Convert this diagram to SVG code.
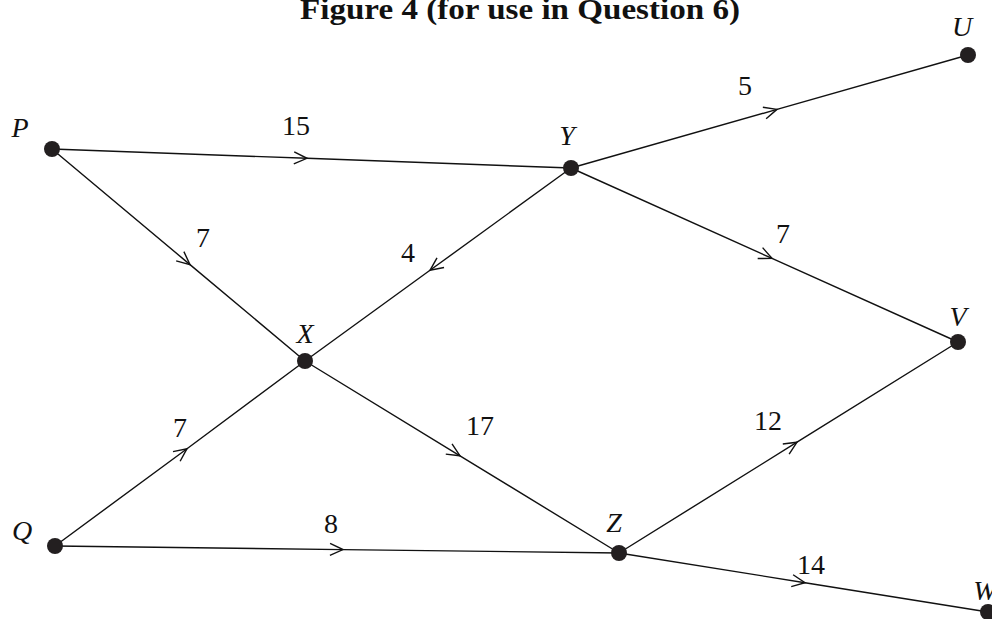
<svg xmlns="http://www.w3.org/2000/svg" width="992" height="619" viewBox="0 0 992 619">
<style>
.e{fill:none;stroke:#111;stroke-width:1.4;marker-mid:url(#arr)}
.n{fill:#231f20}
.lbl{font-style:italic;font-size:28px;fill:#111;text-anchor:middle}
.num{font-size:28px;fill:#111;text-anchor:middle}
.title{font-weight:bold;font-size:30px;fill:#111;text-anchor:middle}
</style>
<defs>
<marker id="arr" markerUnits="userSpaceOnUse" markerWidth="30" markerHeight="30" viewBox="-15 -15 30 30" refX="0" refY="0" orient="auto" overflow="visible">
<path d="M-13,-6 L0,0 L-13,6" fill="none" stroke="#111" stroke-width="1.4"/>
</marker>
</defs>
<rect width="992" height="619" fill="#fff"/>
<g font-family="'Liberation Serif', 'Times New Roman', Times, serif">
<text class="title" x="520" y="19" textLength="440" lengthAdjust="spacingAndGlyphs">Figure 4 (for use in Question 6)</text>
<g id="edges">
<polyline class="e" points="52,149 307,158.3 571,168"/>
<polyline class="e" points="571,168 777,109.4 968,55"/>
<polyline class="e" points="52,149 190,264.6 305,361"/>
<polyline class="e" points="571,168 430,270.3 305,361"/>
<polyline class="e" points="571,168 772,258.4 958,342"/>
<polyline class="e" points="55,546 187,448.7 305,361"/>
<polyline class="e" points="305,361 460,455.8 619,553"/>
<polyline class="e" points="619,553 797,442.2 958,342"/>
<polyline class="e" points="55,546 343,549.6 619,553"/>
<polyline class="e" points="619,553 805,582.7 988,612"/>
</g>
<g id="P"><circle class="n" cx="52" cy="149" r="8"/><text class="lbl" x="20" y="137">P</text></g>
<g id="Y"><circle class="n" cx="571" cy="168" r="8"/><text class="lbl" x="567" y="145">Y</text></g>
<g id="U"><circle class="n" cx="968" cy="55" r="8"/><text class="lbl" x="962" y="36">U</text></g>
<g id="X"><circle class="n" cx="305" cy="361" r="8"/><text class="lbl" x="305" y="343">X</text></g>
<g id="V"><circle class="n" cx="958" cy="342" r="8"/><text class="lbl" x="958" y="326">V</text></g>
<g id="Q"><circle class="n" cx="55" cy="546" r="8"/><text class="lbl" x="22" y="540">Q</text></g>
<g id="Z"><circle class="n" cx="619" cy="553" r="8"/><text class="lbl" x="614" y="532">Z</text></g>
<g id="W"><circle class="n" cx="988" cy="612" r="8"/><text class="lbl" x="985" y="600">W</text></g>
<g id="labels">
<text class="num" x="296" y="135">15</text>
<text class="num" x="745" y="95">5</text>
<text class="num" x="203" y="247">7</text>
<text class="num" x="408" y="262">4</text>
<text class="num" x="783" y="243">7</text>
<text class="num" x="180" y="437">7</text>
<text class="num" x="480" y="435">17</text>
<text class="num" x="768" y="430">12</text>
<text class="num" x="331" y="533">8</text>
<text class="num" x="811" y="574">14</text>
</g>
</g>
</svg>
